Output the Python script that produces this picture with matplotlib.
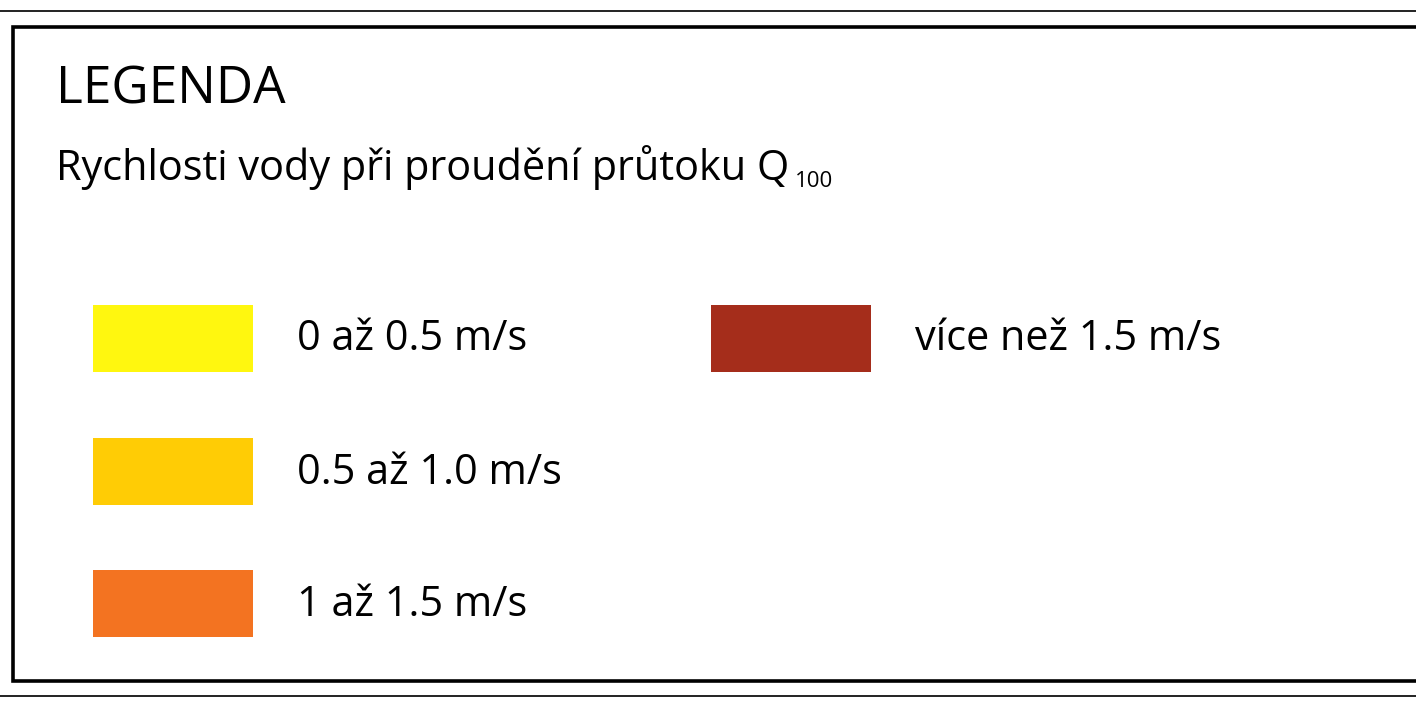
import matplotlib
matplotlib.use("Agg")
import matplotlib.pyplot as plt
from matplotlib.patches import Rectangle

title = "LEGENDA"
subtitle = "Rychlosti vody při proudění průtoku Q"
subscript = "100"
labels = ["0 až 0.5 m/s", "0.5 až 1.0 m/s", "1 až 1.5 m/s", "více než 1.5 m/s"]
colors = ["#FFF70F", "#FFCC05", "#F37321", "#A52D1B"]
columns = [0, 0, 0, 1]
rows = [0, 1, 2, 0]

W, H = 1416, 709
fig = plt.figure(figsize=(W / 100, H / 100), dpi=100)
ax = fig.add_axes([0, 0, 1, 1])
ax.set_xlim(0, W)
ax.set_ylim(H, 0)
ax.axis("off")

FONT = "Open Sans"

# outer thin rules
ax.plot([0, W], [11, 11], color="#222222", lw=1.4)
ax.plot([0, W], [696, 696], color="#222222", lw=1.4)
# inner box
ax.plot([W + 5, 12.5, 12.5, W + 5], [26.5, 26.5, 681, 681], color="black", lw=2.6,
        solid_joinstyle="miter")

ax.text(56, 103, title, fontsize=37, family=FONT, va="baseline", ha="left")
t = ax.text(56, 180, subtitle, fontsize=29.9, family=FONT, va="baseline", ha="left")
fig.canvas.draw()
bb = t.get_window_extent()
xend = bb.x1
ax.text(xend + 6, 187, subscript, fontsize=16, family=FONT, va="baseline", ha="left")

col_x = [93, 711]
row_y = [305, 438, 570]
sw_w, sw_h = 160, 67
for lab, c, ci, ri in zip(labels, colors, columns, rows):
    x0 = col_x[ci]
    y0 = row_y[ri]
    ax.add_patch(Rectangle((x0, y0), sw_w, sw_h, facecolor=c, edgecolor="none"))
    ax.text(x0 + sw_w + 44, y0 + sw_h / 2 + 1, lab,
            fontsize=29.9, family=FONT, va="center", ha="left")

fig.savefig("out.png", dpi=100, facecolor="white")
